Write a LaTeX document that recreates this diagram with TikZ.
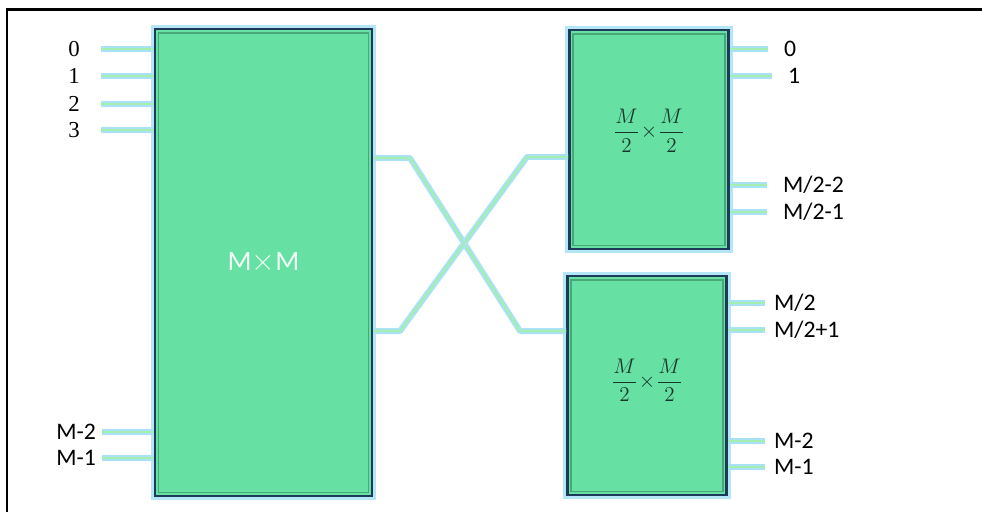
\documentclass[tikz,border=0pt]{standalone}
\usepackage{amsmath}
\usepackage{fontspec}
\usepackage{tikz}
\usetikzlibrary{calc, positioning}
\newfontfamily\lblfont{Carlito}
\newfontfamily\numfont{Liberation Serif}
\definecolor{bFill}{HTML}{66E0A3}
\definecolor{bEdge}{HTML}{1E3A5A}
\definecolor{bBevel}{HTML}{49A877}
\definecolor{bGlow}{HTML}{B4E6F8}
\definecolor{wCore}{HTML}{A4EEB2}
\definecolor{wGlow}{HTML}{A9E2F5}
\definecolor{tDark}{HTML}{17352A}

\begin{document}
\begin{tikzpicture}[x=0.02cm, y=-0.02cm,
    block/.style={draw=bEdge, line width=1.6pt, fill=bFill,
                  preaction={draw=bGlow, line width=4.6pt},
                  inner sep=0pt, font=\fontsize{12.5}{14}\selectfont, text=tDark},
    wire/.style={draw=wCore, line width=1.2pt, line join=round,
                 preaction={draw=wGlow, line width=3.4pt, line join=round}},
    numlbl/.style={font=\numfont\fontsize{13}{14}\selectfont, inner sep=1pt},
    lbl/.style={font=\lblfont\fontsize{13.5}{15}\selectfont, inner sep=1pt},
  ]
    \useasboundingbox (0,0) rectangle (982,512);
    % frame (cut on the right and at the bottom)
    \draw[line width=1.3pt] (7,512) -- (7,9.5) -- (982,9.5);

    % switch blocks
    \node[block, minimum width=4.34cm, minimum height=9.34cm] (mm) at (263.5,262.5)
        {\lblfont\fontsize{16}{17}\selectfont\color{white!90!bFill}M$\times$M};
    \node[block, minimum width=3.18cm, minimum height=4.38cm] (ha) at (649,139.5)
        {\raisebox{5pt}[\height][\depth]{$\displaystyle\frac{M}{2}\!\times\!\frac{M}{2}$}};
    \node[block, minimum width=3.18cm, minimum height=4.38cm] (hb) at (647,385.5)
        {\raisebox{3pt}[\height][\depth]{$\displaystyle\frac{M}{2}\!\times\!\frac{M}{2}$}};
    % bevel inside each block
    \foreach \b in {mm, ha, hb}
      \draw[bBevel, line width=1pt] ($(\b.north west)+(5,5)$) rectangle ($(\b.south east)+(-5,-5)$);

    % inputs of the MxM block
    \foreach \y/\t in {49/0, 76/1, 104/2, 130/3} {
      \node[numlbl, anchor=east] (in\t) at (82,\y) {\t};
      \draw[wire, shorten <=11pt] (in\t.east) -- (in\t.east -| mm.west);
    }
    \node[lbl, anchor=east] (inA) at (98,432) {M-2};
    \node[lbl, anchor=east] (inB) at (98,458) {M-1};
    \draw[wire, shorten <=2pt] (inA.east) -- (inA.east -| mm.west);
    \draw[wire, shorten <=2pt] (inB.east) -- (inB.east -| mm.west);

    % crossing links
    \draw[wire] (mm.east |- 0,158) -- (410,158) -- (520,331) -- (hb.west |- 0,331);
    \draw[wire] (mm.east |- 0,331) -- (400,331) -- (527,157) -- (ha.west |- 0,157);

    % outputs of the upper block
    \node[lbl, anchor=west] (oa0) at (782,49) {0};
    \node[lbl, anchor=west] (oa1) at (786,76) {1};
    \node[lbl, anchor=west] (oa2) at (781,185) {M/2-2};
    \node[lbl, anchor=west] (oa3) at (781,212) {M/2-1};
    \foreach \n in {oa0, oa1, oa2, oa3}
      \draw[wire, shorten <=8pt] (\n.west) -- (\n.west -| ha.east);

    % outputs of the lower block
    \node[lbl, anchor=west] (ob0) at (772,303) {M/2};
    \node[lbl, anchor=west] (ob1) at (772,330) {M/2+1};
    \node[lbl, anchor=west] (ob2) at (772,441) {M-2};
    \node[lbl, anchor=west] (ob3) at (772,467) {M-1};
    \foreach \n in {ob0, ob1, ob2, ob3}
      \draw[wire, shorten <=4pt] (\n.west) -- (\n.west -| hb.east);
  \end{tikzpicture}
\end{document}
